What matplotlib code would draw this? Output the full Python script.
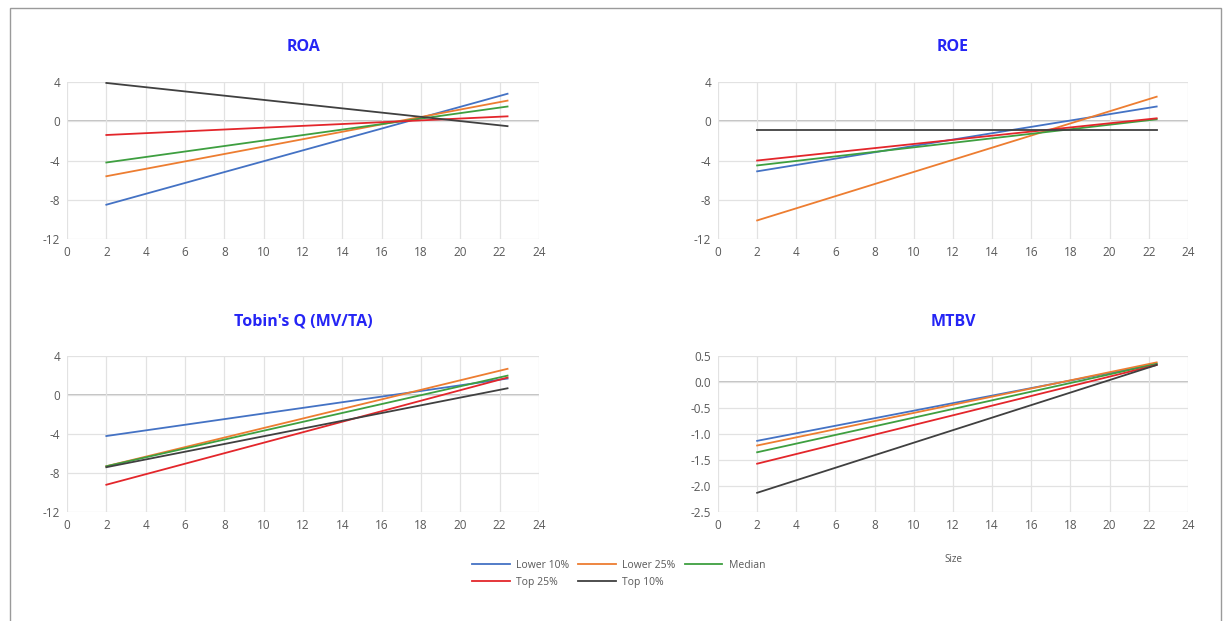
import matplotlib
matplotlib.use('Agg')
import matplotlib.pyplot as plt
from matplotlib.patches import Rectangle
import numpy as np

plt.rcParams['font.family'] = ['Open Sans', 'DejaVu Sans']

# Size range of the fitted lines
size_range = [2.0, 22.4]
series_names = ['Lower 10%', 'Lower 25%', 'Median', 'Top 25%', 'Top 10%']
series_colors = ['#4472C4', '#ED7D31', '#3E9F40', '#E3262B', '#404040']

# Line endpoints (value at size 2, value at size 22.4) per group
roa_start = [-8.5, -5.6, -4.2, -1.4, 3.9]
roa_end = [2.8, 2.1, 1.5, 0.5, -0.5]
roe_start = [-5.1, -10.1, -4.5, -4.0, -0.9]
roe_end = [1.5, 2.5, 0.2, 0.3, -0.9]
tobin_start = [-4.2, -7.3, -7.3, -9.2, -7.4]
tobin_end = [1.7, 2.7, 2.0, 1.8, 0.7]
mtbv_start = [-1.13, -1.22, -1.35, -1.57, -2.13]
mtbv_end = [0.35, 0.38, 0.35, 0.33, 0.33]

panels = [
    ('ROA', roa_start, roa_end, [-12, -8, -4, 0, 4], '{:.0f}'),
    ('ROE', roe_start, roe_end, [-12, -8, -4, 0, 4], '{:.0f}'),
    ("Tobin's Q (MV/TA)", tobin_start, tobin_end, [-12, -8, -4, 0, 4], '{:.0f}'),
    ('MTBV', mtbv_start, mtbv_end, [-2.5, -2.0, -1.5, -1.0, -0.5, 0.0, 0.5], '{:.1f}'),
]
x_ticks = list(range(0, 25, 2))

fig = plt.figure(figsize=(12.25, 6.21), dpi=100)
fig.patches.append(Rectangle((10 / 1225, -0.1), 1211 / 1225, 1.1 - 8 / 621,
                             transform=fig.transFigure, fill=False,
                             edgecolor='#9a9a9a', linewidth=1.0))

positions = [
    [0.0547, 0.615, 0.3853, 0.253],
    [0.5861, 0.615, 0.3837, 0.253],
    [0.0547, 0.1755, 0.3853, 0.251],
    [0.5861, 0.1755, 0.3837, 0.251],
]

tick_color = '#595959'
handles = []
for pos, (title, starts, ends, yticks, fmt) in zip(positions, panels):
    ax = fig.add_axes(pos)
    for name, color, y0, y1 in zip(series_names, series_colors, starts, ends):
        h, = ax.plot(size_range, [y0, y1], color=color, linewidth=1.3, label=name, zorder=3)
        if len(handles) < len(series_names):
            handles.append(h)
    ax.set_xlim(0, 24)
    ax.set_ylim(yticks[0], yticks[-1])
    ax.set_xticks(x_ticks)
    ax.set_yticks(yticks)
    ax.set_yticklabels([fmt.format(v) for v in yticks])
    for s in ax.spines.values():
        s.set_visible(False)
    ax.grid(True, color='#e2e2e2', linewidth=0.9, zorder=0)
    ax.axhline(0, color='#bdbdbd', linewidth=1.3, zorder=1)
    ax.tick_params(length=0, labelsize=8.5, colors=tick_color, pad=5)
    ax.set_title(title, color='#2525f5', fontsize=11.5, fontweight='bold', pad=22)
    if title == 'MTBV':
        ax.set_xlabel('Size', fontsize=7, color=tick_color, labelpad=16)

# legend fills column-major, so reorder to get two rows
order = [0, 3, 1, 4, 2]
fig.legend([handles[i] for i in order], [series_names[i] for i in order],
           loc='center', bbox_to_anchor=(0.505, 0.076), ncol=3, frameon=False,
           fontsize=7.5, labelcolor=tick_color, handlelength=3.6,
           columnspacing=0.9, handletextpad=0.6, labelspacing=0.55)

fig.savefig('out.png', dpi=100)
